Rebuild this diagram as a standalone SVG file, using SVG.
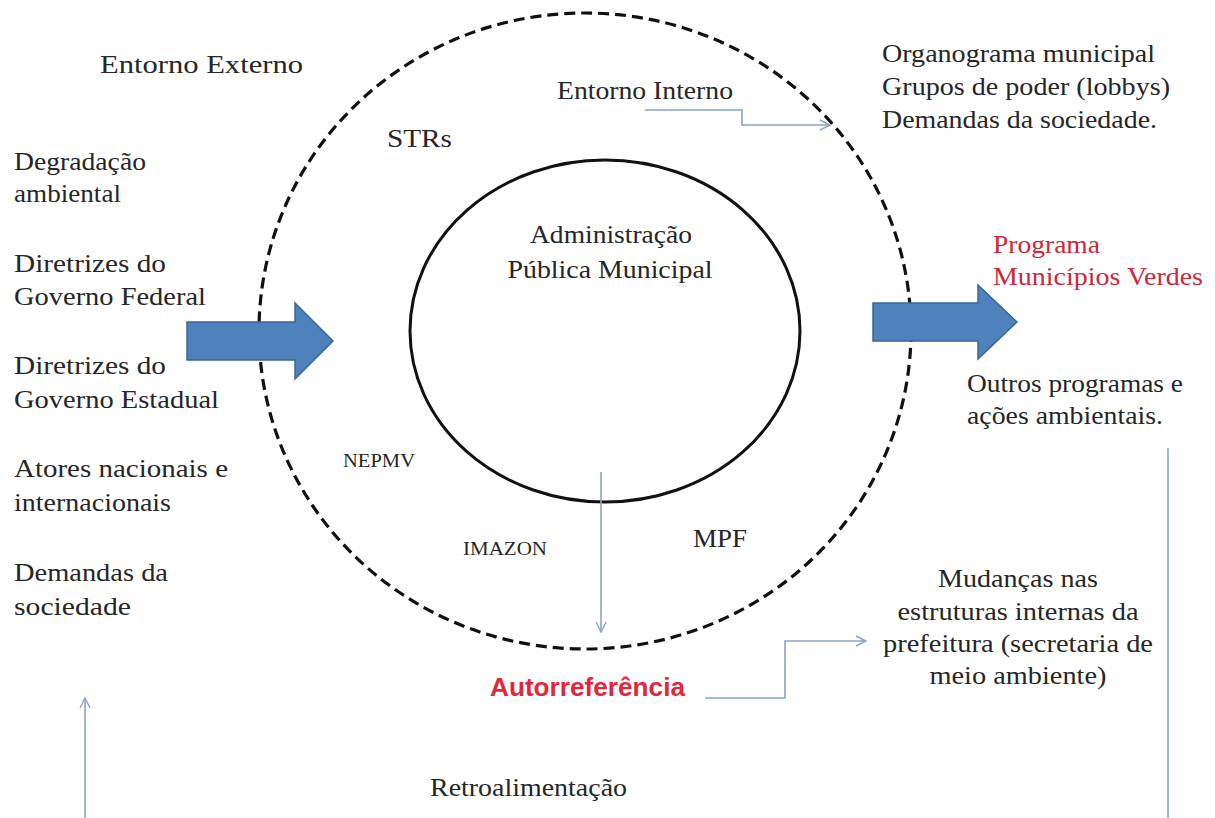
<svg xmlns="http://www.w3.org/2000/svg" width="1215" height="818" viewBox="0 0 1215 818">
  <defs>
    <style>
      text { font-family: 'Liberation Serif', 'DejaVu Serif', serif; }
      .t { font-size: 25px; fill: #262626; }
      .sm { font-size: 19px; }
      .red { fill: #d0263a; }
      .bold-red { font-family: 'Liberation Sans', Arial, sans-serif; font-size: 26px; font-weight: bold; fill: #e0283c; }
      .conn { fill: none; stroke: #8aa4c8; stroke-width: 1.6; }
      .big-arrow { fill: #4f81bd; stroke: #3a659a; stroke-width: 1.5; }
    </style>
    <marker id="open-arrow" viewBox="0 0 12 12" refX="11" refY="6" markerWidth="12" markerHeight="12" markerUnits="userSpaceOnUse" orient="auto">
      <path d="M1,1 L11,6 L1,11" fill="none" stroke="#8aa4c8" stroke-width="1.4"/>
    </marker>
  </defs>

  <rect width="1215" height="818" fill="#ffffff"/>

  <!-- outer boundary: internal environment -->
  <g id="entorno-interno-boundary">
    <ellipse cx="585" cy="331" rx="326" ry="318" fill="none" stroke="#111" stroke-width="3.2" stroke-dasharray="11 6"/>
  </g>

  <!-- core: municipal public administration -->
  <g id="administracao">
    <ellipse cx="605" cy="331" rx="195" ry="171" fill="none" stroke="#111" stroke-width="3"/>
    <text class="t" font-family="Liberation Serif, serif" x="611" y="243" text-anchor="middle" textLength="162" lengthAdjust="spacingAndGlyphs">Administração</text>
    <text class="t" font-family="Liberation Serif, serif" x="610" y="278" text-anchor="middle" textLength="205" lengthAdjust="spacingAndGlyphs">Pública Municipal</text>
  </g>

  <!-- actors inside the internal environment -->
  <g id="strs"><text class="t" x="387" y="147" textLength="65" lengthAdjust="spacingAndGlyphs">STRs</text></g>
  <g id="nepmv"><text class="t sm" x="343" y="467" textLength="72" lengthAdjust="spacingAndGlyphs">NEPMV</text></g>
  <g id="imazon"><text class="t sm" x="463" y="555" textLength="84" lengthAdjust="spacingAndGlyphs">IMAZON</text></g>
  <g id="mpf"><text class="t" x="693" y="547" textLength="54" lengthAdjust="spacingAndGlyphs">MPF</text></g>

  <!-- headings -->
  <g id="entorno-externo"><text class="t" x="100" y="73" textLength="203" lengthAdjust="spacingAndGlyphs">Entorno Externo</text></g>
  <g id="entorno-interno"><text class="t" x="557" y="99" textLength="176" lengthAdjust="spacingAndGlyphs">Entorno Interno</text></g>

  <!-- external inputs -->
  <g id="inputs">
    <text class="t" x="14" y="170" textLength="132" lengthAdjust="spacingAndGlyphs">Degradação</text>
    <text class="t" x="14" y="202" textLength="107" lengthAdjust="spacingAndGlyphs">ambiental</text>
    <text class="t" x="14" y="272" textLength="152" lengthAdjust="spacingAndGlyphs">Diretrizes do</text>
    <text class="t" x="14" y="305" textLength="192" lengthAdjust="spacingAndGlyphs">Governo Federal</text>
    <text class="t" x="14" y="374" textLength="152" lengthAdjust="spacingAndGlyphs">Diretrizes do</text>
    <text class="t" x="14" y="408" textLength="205" lengthAdjust="spacingAndGlyphs">Governo Estadual</text>
    <text class="t" x="14" y="477" textLength="214" lengthAdjust="spacingAndGlyphs">Atores nacionais e</text>
    <text class="t" x="14" y="511" textLength="157" lengthAdjust="spacingAndGlyphs">internacionais</text>
    <text class="t" x="14" y="581" textLength="154" lengthAdjust="spacingAndGlyphs">Demandas da</text>
    <text class="t" x="14" y="615" textLength="117" lengthAdjust="spacingAndGlyphs">sociedade</text>
  </g>

  <!-- internal factors -->
  <g id="fatores-internos">
    <text class="t" x="882" y="62" textLength="273" lengthAdjust="spacingAndGlyphs">Organograma municipal</text>
    <text class="t" x="882" y="95" textLength="288" lengthAdjust="spacingAndGlyphs">Grupos de poder (lobbys)</text>
    <text class="t" x="882" y="128" textLength="275" lengthAdjust="spacingAndGlyphs">Demandas da sociedade.</text>
  </g>

  <!-- outputs -->
  <g id="outputs">
    <text class="t red" x="993" y="253" textLength="107" lengthAdjust="spacingAndGlyphs">Programa</text>
    <text class="t red" x="993" y="285" textLength="210" lengthAdjust="spacingAndGlyphs">Municípios Verdes</text>
    <text class="t" x="967" y="392" textLength="216" lengthAdjust="spacingAndGlyphs">Outros programas  e</text>
    <text class="t" x="967" y="424" textLength="196" lengthAdjust="spacingAndGlyphs">ações ambientais.</text>
  </g>

  <g id="mudancas">
    <text class="t" x="1018" y="587" text-anchor="middle" textLength="160" lengthAdjust="spacingAndGlyphs">Mudanças nas</text>
    <text class="t" x="1018" y="620" text-anchor="middle" textLength="241" lengthAdjust="spacingAndGlyphs">estruturas internas da</text>
    <text class="t" x="1018" y="652" text-anchor="middle" textLength="270" lengthAdjust="spacingAndGlyphs">prefeitura (secretaria de</text>
    <text class="t" x="1018" y="684" text-anchor="middle" textLength="177" lengthAdjust="spacingAndGlyphs">meio ambiente)</text>
  </g>

  <g id="autorreferencia"><text class="bold-red" x="490" y="696" textLength="195" lengthAdjust="spacingAndGlyphs">Autorreferência</text></g>
  <g id="retroalimentacao"><text class="t" x="430" y="796" textLength="197" lengthAdjust="spacingAndGlyphs">Retroalimentação</text></g>

  <!-- block arrows: input and output -->
  <g id="arrow-in">
    <path class="big-arrow" d="M187,322 L295,322 L295,303 L333,341 L295,379 L295,360 L187,360 Z"/>
  </g>
  <g id="arrow-out">
    <path class="big-arrow" d="M873,303 L978,303 L978,285 L1017,322 L978,359 L978,341 L873,341 Z"/>
  </g>

  <!-- connectors -->
  <g id="connectors">
    <path class="conn" d="M645,110 L742,110 L742,125 L830,125" marker-end="url(#open-arrow)"/>
    <path class="conn" d="M601,472 L601,632" marker-end="url(#open-arrow)"/>
    <path class="conn" d="M705,698 L785,698 L785,641 L866,641" marker-end="url(#open-arrow)"/>
    <path class="conn" d="M1168,448 L1168,818"/>
    <path class="conn" d="M85,818 L85,698" marker-end="url(#open-arrow)"/>
  </g>
</svg>
